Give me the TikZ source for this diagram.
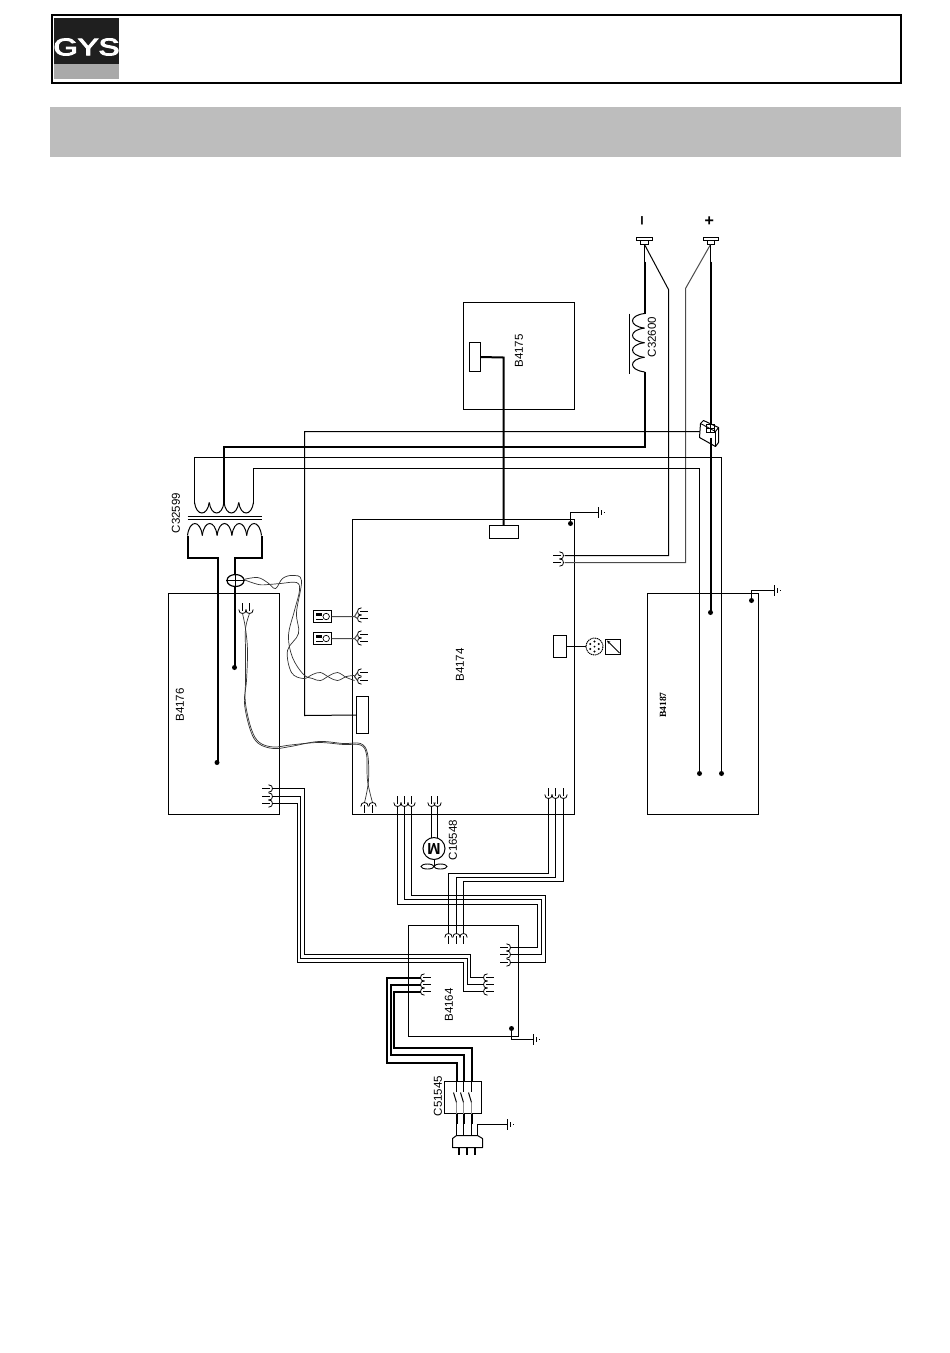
\documentclass[tikz,border=0pt]{standalone}
\usepackage{fontspec}
\usepackage{graphicx}
\setmainfont{Liberation Sans}
\newfontfamily\serifb{Liberation Serif}
\newfontfamily\logofont[FakeBold=4]{Liberation Sans}
\usetikzlibrary{arrows.meta,shapes.geometric}
\definecolor{bandgrey}{HTML}{BDBDBD}
\definecolor{logogrey}{HTML}{A9A9A9}
\definecolor{twistgrey}{HTML}{333333}
\tikzset{
  wire/.style={line width=1pt,line join=miter},
  hvy/.style={line width=2pt,line join=miter},
  twist/.style={line width=0.7pt,twistgrey},
  box/.style={draw,line width=1pt,inner sep=0pt,outer sep=0pt},
  lbl/.style={rotate=90,inner sep=0pt,font=\fontsize{11.5}{12}\selectfont},
  dotn/.style={circle,fill,inner sep=0pt,minimum size=5pt},
}
\newcommand{\term}[3]{\begin{scope}[shift={(#1,#2)},rotate=#3]
  \draw[line width=0.8pt] (4,3.7) .. controls (1.2,3.7) and (0,2) .. (0,0) .. controls (0,-2) and (1.2,-3.7) .. (4,-3.7);
  \draw[line width=1.4pt] (2.5,0) -- (10.5,0);
\end{scope}}
\newcommand{\gnd}[2]{
  \draw[line width=1pt] (#1,#2-5.5) -- (#1,#2+5.5);
  \draw[line width=0.9pt] (#1+3,#2-2.5) -- (#1+3,#2+2.5);
  \fill (#1+5.6,#2-0.6) rectangle (#1+6.4,#2+0.6);
}
\begin{document}
\begin{tikzpicture}[x=1pt,y=-1pt]
\useasboundingbox (0,0) rectangle (950,1353);
% header
\node[draw,line width=2pt,minimum width=849pt,minimum height=68pt,inner sep=0pt] (header) at (476.5,49) {};
\fill[black!88] (54,18) rectangle (119,64);
\fill[logogrey] (54,64) rectangle (119,79);
\node[white,inner sep=0pt,font=\fontsize{24}{24}\selectfont\logofont] (logo) at (86.5,47) {\scalebox{1.3}[1]{GYS}};
\fill[bandgrey] (50,107) rectangle (901,157);
\begin{scope}[shift={(0.5,0.5)}]
% boxes
\node[box,minimum width=111pt,minimum height=107pt] (b4175) at (518.5,355.5) {};
\node[box,minimum width=222pt,minimum height=295pt] (b4174) at (463,666.5) {};
\node[box,minimum width=111pt,minimum height=221pt] (b4176) at (223.5,703.5) {};
\node[box,minimum width=111pt,minimum height=221pt] (b4187) at (702.5,703.5) {};
\node[box,minimum width=110pt,minimum height=111pt] (b4164) at (463,980.5) {};
\node[box,minimum width=37pt,minimum height=32pt] (c51545) at (462.5,1097) {};
\node[box,minimum width=11pt,minimum height=29pt] (conA) at (474.5,356.5) {};
\node[box,minimum width=29pt,minimum height=13pt] (conB) at (503.5,531.5) {};
\node[box,minimum width=12pt,minimum height=37pt] (conC) at (362,714.5) {};
\node[box,minimum width=13pt,minimum height=22pt] (conD) at (559.5,646) {};
% labels
\node[lbl] (t1) at (518.5,350.5) {B4175};
\node[lbl] (t2) at (459.5,664.5) {B4174};
\node[lbl] (t3) at (179.5,704.5) {B4176};
\node[lbl,inner sep=0pt,font=\fontsize{9.5}{10}\selectfont\serifb\bfseries] (t4) at (662.5,704.5) {B4187};
\node[lbl] (t5) at (448.5,1004.5) {B4164};
\node[lbl] (t6) at (175.5,512.5) {C32599};
\node[lbl] (t7) at (651.5,336.5) {C32600};
\node[lbl] (t8) at (452.5,839.5) {C16548};
\node[lbl] (t9) at (437.5,1095.5) {C51545};
\node[rotate=90,inner sep=0pt,font=\fontsize{17}{17}\selectfont\bfseries] (minus) at (643.5,220.5) {--};
\node[rotate=90,inner sep=0pt,font=\fontsize{16}{16}\selectfont\bfseries] (plus) at (709.5,220.5) {+};
% output terminals
\draw[line width=1pt,fill=white] (636,237) rectangle (652,240);
\draw[line width=1pt,fill=white] (640,240) rectangle (648,244);
\draw[line width=1pt,fill=white] (703,237) rectangle (718,240);
\draw[line width=1pt,fill=white] (707,240) rectangle (714,244);
% output wires
\draw[wire] (644,244) -- (668,289) -- (668,555) -- (564,555);
\draw[wire,black!70] (710,244) -- (685,288) -- (685,562) -- (564,562);
\draw[wire] (644,244) -- (644,262);
\draw[wire] (710,244) -- (710,262);
\draw[hvy] (644,261) -- (644,313);
\draw[hvy] (644,371) -- (644,446) -- (223,446) -- (223,503);
\foreach \i in {0,...,3}{\draw[wire] (644,{313+\i*14.6}) .. controls (628,{315+\i*14.6}) and (628,{325.6+\i*14.6}) .. (644,{327.6+\i*14.6});}
\draw[wire] (629,313) -- (629,373);
\draw[hvy] (710,261) -- (710,612);
\node[dotn] (dPlus) at (710,612) {};
% B4175 to B4174
\draw[hvy] (conA.east) -- (503,357) -- (503,525);
% sensor wire and others
\draw[wire] (700,431) -- (304,431) -- (304,715) -- (conC.west);
\draw[wire] (194,503) -- (194,457) -- (721,457) -- (721,773);
\draw[wire] (253,503) -- (253,468) -- (699,468) -- (699,773);
\node[dotn] (d1) at (721,773) {};
\node[dotn] (d2) at (699,773) {};
% sensor
\draw[line width=1pt,fill=white,line join=round] (700,423) -- (703,420) -- (718,427) -- (718,442) -- (715,446) -- (699,437) -- cycle;
\draw[line width=0.9pt] (700,423) -- (715,431) -- (715,446);
\draw[line width=0.9pt] (715,431) -- (718,427);
\draw[line width=0.8pt] (706,424) rectangle (714,432);
\draw[line width=0.6pt] (710,424) -- (710,432) (706,428) -- (714,428);
\draw[hvy] (710,437) -- (710,446);
% transformer
\foreach \i in {0,...,3}{\draw[wire] ({194+\i*14.75},502) .. controls ({196+\i*14.75},516) and ({206.75+\i*14.75},516) .. ({208.75+\i*14.75},502);}
\draw[wire] (187,516) -- (261,516);
\draw[wire] (187,519) -- (261,519);
\foreach \i in {0,...,4}{\draw[wire] ({187+\i*14.8},535) .. controls ({189+\i*14.8},519) and ({199.8+\i*14.8},519) .. ({201.8+\i*14.8},535);}
\draw[hvy] (187,535) -- (187,557) -- (217,557) -- (217,762);
\draw[hvy] (261,535) -- (261,557) -- (234,557) -- (234,667);
\node[dotn] (d3) at (216.5,762) {};
\node[dotn] (d4) at (234,667) {};
% current sensor
\node[draw,ellipse,line width=1.2pt,fill=white,minimum width=17pt,minimum height=12pt,inner sep=0pt] (cs) at (235,580) {};
\draw[line width=1.2pt] (cs.west) -- (cs.east) (cs.north) -- (cs.south);
% twisted pair
\draw[twist] plot[smooth,tension=0.6] coordinates {(243,579) (257,577) (267,582) (275,588) (282,578) (292,575) (301,580) (296,612) (298,633) (287,650) (291,672) (303,678) (312,674) (320,672) (329,677) (337,680) (346,676) (354,675)};
\draw[twist] plot[smooth,tension=0.6] coordinates {(243,579) (258,584) (268,584) (280,583) (296,582) (299,590) (294,610) (288,635) (292,657) (303,674) (312,678) (320,680) (329,675) (337,672) (346,677) (354,680)};
\term{357}{672}{0}\term{357}{680}{0}
\draw[wire,black!80] (354,676) -- (357,672) (354,676) -- (357,680);
% twisted long
\term{242}{613}{90}\term{249}{613}{90}
\draw[twist] plot[smooth,tension=0.6] coordinates {(242,613) (245,628) (247,650) (246,680) (244,703) (250,730) (258,743) (273,748) (290,746) (318,741) (343,743) (360,743) (367,753) (368,780) (364,802)};
\draw[twist] plot[smooth,tension=0.6] coordinates {(249,613) (245,628) (245,650) (245,680) (245,703) (251,729) (259,742) (273,746.5) (290,744.5) (318,742) (343,744) (360,744.5) (366,754) (367,780) (372,802)};
\term{364}{802}{-90}\term{372}{802}{-90}
% switches
\node[box,minimum width=18pt,minimum height=12pt] (sw1) at (322,616) {};
\node[box,minimum width=18pt,minimum height=12pt] (sw2) at (322,638) {};
\foreach \yy in {616,638}{
  \fill (315.5,\yy-3.5) rectangle (321,\yy-0.8);
  \draw[line width=0.7pt] (325.7,\yy) circle (3.2);
  \draw[line width=0.7pt] (315.5,\yy+2.5) -- (322.5,\yy+2.5);
}
\term{357}{611}{0}\term{357}{618}{0}
\term{357}{634}{0}\term{357}{641}{0}
\draw[wire,black!70] (sw1.east) -- (354,616) -- (357,611) (354,616) -- (357,618);
\draw[wire,black!70] (sw2.east) -- (354,638) -- (357,634) (354,638) -- (357,641);
% B4174 output pair
\term{563}{555}{180}\term{563}{562}{180}
% grounds
\coordinate (g1) at (598,512);
\draw[wire] (570,523) -- (570,512) -- (g1);
\node[dotn] (d5) at (570,523) {};
\gnd{598}{512}
\coordinate (g2) at (774,590);
\draw[wire] (751,600) -- (751,590) -- (g2);
\node[dotn] (d6) at (751,600) {};
\gnd{774}{590}
\coordinate (g3) at (533,1039);
\draw[wire] (511,1028) -- (511,1039) -- (g3);
\node[dotn] (d7) at (511,1028) {};
\gnd{533}{1039}
\coordinate (g4) at (507,1124);
\draw[wire] (477,1135) -- (477,1124) -- (g4);
\gnd{507}{1124}
% connector circle and pot
\node[draw,circle,dash pattern=on 1.2pt off 0.7pt,line width=1pt,minimum size=17pt,inner sep=0pt] (cir) at (594,646) {};
\draw[wire] (conD.east) -- (cir.west);
\foreach \a in {30,90,150,210,270,330}{\fill (594,646) ++(\a:5) circle (1.1);}
\fill (594,646) circle (1);
\node[box,minimum width=15pt,minimum height=15pt] (pot) at (612.5,646.5) {};
\draw[line width=0.9pt,-{Stealth[length=3.5pt,width=3pt]}] (619,652.5) -- (606.5,640);
% B4176 terminals and wires
\term{272}{788}{180}\term{272}{796}{180}\term{272}{803}{180}
\draw[wire] (272,788) -- (304,788) -- (304,954) -- (470,954) -- (470,977) -- (483,977);
\draw[wire] (272,796) -- (300,796) -- (300,958) -- (467,958) -- (467,984) -- (483,984);
\draw[wire] (272,803) -- (297,803) -- (297,962) -- (463,962) -- (463,991) -- (483,991);
\term{483}{977}{0}\term{483}{984}{0}\term{483}{991}{0}
% B4174 bottom left
\term{397}{806}{90}\term{404}{806}{90}\term{411}{806}{90}
\draw[wire] (397,806) -- (397,904) -- (537,904) -- (537,947) -- (510,947);
\draw[wire] (404,806) -- (404,899) -- (541,899) -- (541,954) -- (510,954);
\draw[wire] (411,806) -- (411,895) -- (545,895) -- (545,962) -- (510,962);
\term{510}{947}{180}\term{510}{954}{180}\term{510}{962}{180}
% motor
\term{431}{806}{90}\term{437}{806}{90}
\node[draw,circle,line width=1pt,minimum size=22pt,inner sep=0pt,rotate=180,font=\fontsize{16}{16}\selectfont\bfseries] (motor) at (433.5,848) {M};
\draw[wire] (431,806) -- (431,837.3) (437,806) -- (437,837.3);
\draw[wire] (433.5,859) -- (433.5,866);
\draw[line width=0.9pt] (427,866) ellipse (6.5 and 2.5);
\draw[line width=0.9pt] (440,866) ellipse (6.5 and 2.5);
% B4174 bottom right
\term{548}{798}{90}\term{555}{798}{90}\term{563}{798}{90}
\draw[wire] (548,798) -- (548,873) -- (448,873) -- (448,933);
\draw[wire] (555,798) -- (555,877) -- (456,877) -- (456,933);
\draw[wire] (563,798) -- (563,881) -- (463,881) -- (463,933);
\term{448}{933}{-90}\term{456}{933}{-90}\term{463}{933}{-90}
% mains
\term{420}{977}{0}\term{420}{984}{0}\term{420}{991}{0}
\draw[hvy] (420,977) -- (386,977) -- (386,1062) -- (456,1062) -- (456,1081);
\draw[hvy] (420,984) -- (390,984) -- (390,1054) -- (463,1054) -- (463,1081);
\draw[hvy] (420,991) -- (393,991) -- (393,1047) -- (471,1047) -- (471,1081);
\foreach \xx in {456,463,471}{
  \draw[wire] (\xx,1081) -- (\xx,1091);
  \draw[wire] (\xx-3,1092) -- (\xx,1102);
  \draw[wire,black!45] (\xx,1102) -- (\xx,1113);
  \draw[hvy] (\xx,1113) -- (\xx,1123);
  \draw[wire] (\xx,1123) -- (\xx,1135);
}
% plug
\draw[line width=1pt,line join=round] (456,1135) -- (477,1135) -- (482,1138) -- (482,1147) -- (452,1147) -- (452,1138) -- cycle;
\foreach \xx in {458.5,466,474}{\draw[hvy] (\xx,1147) -- (\xx,1154.5);}
\end{scope}
\end{tikzpicture}
\end{document}
